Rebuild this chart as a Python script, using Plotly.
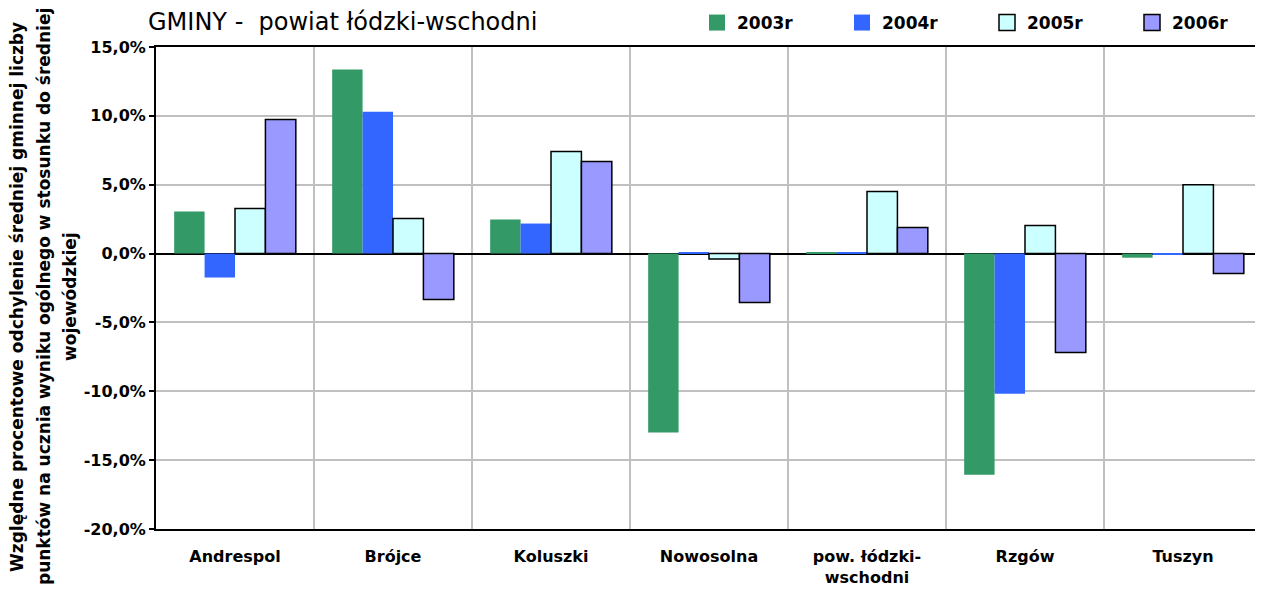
import plotly.graph_objects as go

categories = ["Andrespol", "Brójce", "Koluszki", "Nowosolna", "pow. łódzki-<br>wschodni", "Rzgów", "Tuszyn"]
v2003 = [3.05, 13.37, 2.47, -13.0, 0.05, -16.06, -0.3]
v2004 = [-1.74, 10.3, 2.18, 0.05, 0.05, -10.17, -0.1]
v2005 = [3.27, 2.54, 7.41, -0.4, 4.5, 2.03, 5.0]
v2006 = [9.74, -3.34, 6.69, -3.56, 1.89, -7.19, -1.45]
series_names = ["2003r", "2004r", "2005r", "2006r"]
tick_vals = [15, 10, 5, 0, -5, -10, -15, -20]
tick_text = ["15,0%", "10,0%", "5,0%", "0,0%", "-5,0%", "-10,0%", "-15,0%", "-20,0%"]
y_title_lines = ["Względne procentowe odchylenie średniej gminnej liczby",
                 "punktów na ucznia wyniku ogólnego w stosunku do średniej",
                 "wojewódzkiej"]

colors = ["#339966", "#3366FF", "#CCFFFF", "#9999FF"]
outlines = [0, 0, 1.5, 1.5]

BOLD = dict(family="DejaVu Sans", weight="bold", color="black")

fig = go.Figure()
for name, vals, c, lw in zip(series_names, [v2003, v2004, v2005, v2006], colors, outlines):
    fig.add_trace(go.Bar(
        x=categories, y=vals, name=name, legendgroup=name, showlegend=False,
        marker=dict(color=c, line=dict(color="black", width=lw)),
    ))
# legend entries with larger square swatches
for name, c, lw in zip(series_names, colors, outlines):
    fig.add_trace(go.Scatter(
        x=[None], y=[None], mode="markers", name=name, legendgroup=name,
        marker=dict(symbol="square", size=16, color=c,
                    line=dict(color="black", width=lw)),
    ))

# page body has an 8px margin; compensate so screen positions match
OFF = 8
W, H = 1255, 587
L, R, T, B = 148, 1, 39, 66
pw, ph = W - L - R, H - T - B


def sx(px):  # screen x -> container fraction
    return (px - OFF) / W


def sy(py):  # screen y -> container fraction
    return 1 - (py - OFF) / H


def px_paper_x(px):
    return (px - OFF - L) / pw


def px_paper_y(py):
    return (H - B - (py - OFF)) / ph


annotations = []
for line_text, xs in zip(y_title_lines, [17, 44, 70]):
    annotations.append(dict(text=line_text, textangle=-90, showarrow=False,
                            xref="paper", yref="paper",
                            x=px_paper_x(xs), y=px_paper_y(297),
                            xanchor="center", yanchor="middle",
                            font=dict(size=17, **BOLD)))

fig.update_layout(
    width=W, height=H,
    margin=dict(l=L, r=R, t=T, b=B, autoexpand=False),
    paper_bgcolor="white", plot_bgcolor="white",
    barmode="group", bargap=0.23, bargroupgap=0,
    font=dict(family="DejaVu Sans", color="black"),
    title=dict(text="GMINY -  powiat łódzki-wschodni", x=sx(148), xanchor="left", xref="container",
               y=sy(22), yanchor="middle", yref="container",
               font=dict(size=24, family="DejaVu Sans", color="black")),
    legend=dict(orientation="h", x=sx(697), xref="container", xanchor="left",
                y=sy(23), yref="container", yanchor="middle",
                font=dict(size=17, **BOLD), itemsizing="trace",
                traceorder="normal", entrywidth=100, entrywidthmode="pixels",
                bgcolor="rgba(0,0,0,0)"),
    xaxis=dict(showline=True, linecolor="black", linewidth=2, mirror=True,
               showgrid=True, gridcolor="#C0C0C0", gridwidth=2,
               tickson="boundaries", ticks="", automargin=False,
               ticklabelstandoff=12,
               tickfont=dict(size=16, **BOLD)),
    yaxis=dict(range=[-20, 15], tickvals=tick_vals, ticktext=tick_text,
               showline=True, linecolor="black", linewidth=2,
               ticks="outside", ticklen=5, tickcolor="black", tickwidth=2,
               showgrid=True, gridcolor="#C0C0C0", gridwidth=2,
               zeroline=True, zerolinecolor="black", zerolinewidth=1.5,
               automargin=False,
               tickfont=dict(size=16, **BOLD)),
    annotations=annotations,
    shapes=[dict(type="line", xref="paper", yref="paper", x0=1, x1=1, y0=0, y1=1,
                 line=dict(color="#A0A0A0", width=1))],
)

fig.write_html("out.html")
